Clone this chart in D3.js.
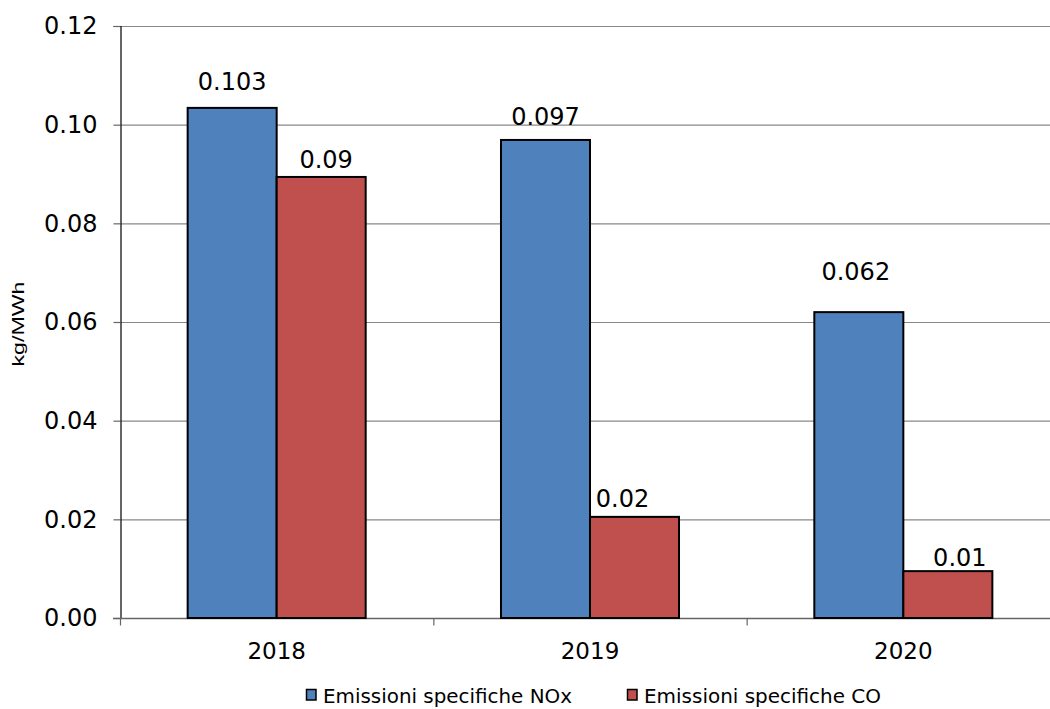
<!DOCTYPE html>
<html><head><meta charset="utf-8">
<script src="https://cdn.jsdelivr.net/npm/d3@7"></script>
<style>body{margin:0;background:#fff}svg{display:block}</style>
</head><body>
<svg id="c" width="1050" height="709"></svg>
<script>
const categories = ["2018", "2019", "2020"];
const seriesNames = ["Emissioni specifiche NOx", "Emissioni specifiche CO"];
const noxValues = [0.1034, 0.0969, 0.062];
const coValues = [0.0894, 0.0205, 0.0095];
const noxLabels = ["0.103", "0.097", "0.062"];
const coLabels = ["0.09", "0.02", "0.01"];
const yTicks = [0, 0.02, 0.04, 0.06, 0.08, 0.10, 0.12];
const colors = ["#4F81BD", "#C0504D"];
// manual label nudges (px) as placed in the original chart
const noxLabelNudge = [[0, -18], [0, -15], [-3, -32]];
const coLabelNudge = [[5, -9], [-12, -10], [12, -5]];

(function () {
const svg = d3.select("#c");
const pL = 120, pR = 1060, pT = 26, pB = 618;
const font = "DejaVu Sans, Verdana, sans-serif";

const x = d3.scaleBand().domain(categories).range([pL, pR]).paddingInner(0).paddingOuter(0);
const y = d3.scaleLinear().domain([0, 0.12]).range([pB, pT]);
const inner = d3.scaleBand().domain([0, 1]).range([0, x.bandwidth()]).paddingInner(0).paddingOuter(0.76);

// gridlines
svg.append("g").selectAll("line").data(yTicks.filter(d => d > 0)).join("line")
  .attr("x1", pL).attr("x2", 1050).attr("y1", d => y(d) + 0.5).attr("y2", d => y(d) + 0.5)
  .attr("stroke", "#888888").attr("stroke-width", 1.2);

// y axis
const yAxis = d3.axisLeft(y).tickValues(yTicks).tickFormat(d3.format(".2f")).tickSize(7).tickPadding(16);
const gy = svg.append("g").attr("transform", `translate(${pL + 0.5},0)`).call(yAxis);
gy.select(".domain").attr("stroke", "#000").attr("stroke-width", 1.2);
gy.selectAll(".tick line").attr("stroke", "#666").attr("stroke-width", 1.2);
gy.selectAll(".tick text").attr("font-family", font).attr("font-size", 24).attr("fill", "#000");

// x axis baseline
svg.append("line").attr("x1", pL - 7).attr("x2", 1050).attr("y1", pB + 0.5).attr("y2", pB + 0.5)
  .attr("stroke", "#666").attr("stroke-width", 1.5);

const series = [noxValues, coValues];
const labels = [noxLabels, coLabels];
const nudges = [noxLabelNudge, coLabelNudge];
series.forEach((vals, si) => {
  svg.append("g").selectAll("rect").data(categories).join("rect")
    .attr("x", c => x(c) + inner(si))
    .attr("y", (c, i) => y(vals[i]))
    .attr("width", inner.bandwidth())
    .attr("height", (c, i) => y(0) - y(vals[i]))
    .attr("fill", colors[si]).attr("stroke", "#000").attr("stroke-width", 2);
});
series.forEach((vals, si) => {
  svg.append("g").selectAll("text").data(categories).join("text")
    .attr("x", (c, i) => x(c) + inner(si) + inner.bandwidth() / 2 + nudges[si][i][0])
    .attr("y", (c, i) => y(vals[i]) + nudges[si][i][1])
    .attr("text-anchor", "middle")
    .attr("font-family", font).attr("font-size", 24).attr("fill", "#000")
    .text((c, i) => labels[si][i]);
});

// x axis labels
const xAxis = d3.axisBottom(x).tickSize(0).tickPadding(24);
const gx = svg.append("g").attr("transform", `translate(0,${pB + 0.5})`).call(xAxis);
gx.select(".domain").remove();
gx.selectAll(".tick text").attr("font-family", font).attr("font-size", 23).attr("fill", "#000");
gx.selectAll("line.sep").data(categories).join("line").attr("class", "sep")
  .attr("x1", c => x(c) + 0.5).attr("x2", c => x(c) + 0.5).attr("y1", 0).attr("y2", 7)
  .attr("stroke", "#666").attr("stroke-width", 1.2);

// y label
svg.append("text").attr("transform", "translate(23.5,324) rotate(-90)")
  .attr("text-anchor", "middle").attr("font-family", "Liberation Sans, Arial, sans-serif")
  .attr("font-size", 17).attr("textLength", 85).attr("lengthAdjust", "spacingAndGlyphs")
  .attr("fill", "#000").text("kg/MWh");

// legend
const legX = [306.5, 627.5];
const legLen = [249, 237];
const leg = svg.append("g").selectAll("g").data(seriesNames).join("g")
  .attr("transform", (d, i) => `translate(${legX[i]},703)`);
leg.append("rect").attr("x", 0).attr("y", -13.5).attr("width", 9.5).attr("height", 10.5)
  .attr("fill", (d, i) => colors[i]).attr("stroke", "#000").attr("stroke-width", 1.5);
leg.append("text").attr("x", 16.5).attr("y", 0)
  .attr("font-family", font).attr("font-size", 19)
  .attr("textLength", (d, i) => legLen[i]).attr("lengthAdjust", "spacingAndGlyphs")
  .attr("fill", "#000").text(d => d);
})();
</script>
</body></html>
